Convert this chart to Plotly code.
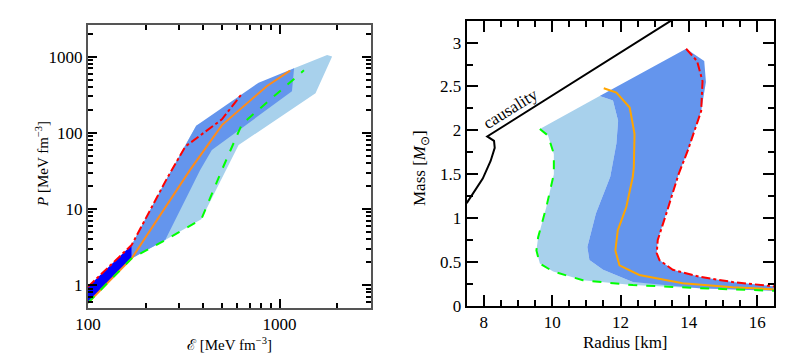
import plotly.graph_objects as go

# ---- left panel: P(e) bands ----
e_dark = [100, 169, 169, 100]
p_dark = [0.585, 2.24, 3.36, 0.95]

e_med = [169, 169, 258, 333, 367, 777, 1190, 1160, 443, 385, 253]
p_med = [2.24, 3.36, 25, 80, 124, 455, 704, 350, 59.5, 32.5, 3.9]

e_light = [169, 253, 390, 611, 1540, 1880, 1770, 1190, 367, 258, 169]
p_light = [2.24, 3.9, 7.3, 69, 330, 1000, 1050, 704, 124, 25, 3.36]

e_red = [100, 169, 258, 322, 500, 630]
p_red = [0.95, 3.36, 25, 66, 150, 316]

e_orange = [100, 169, 341, 500, 860, 1135]
p_orange = [0.585, 2.24, 32.5, 126, 412, 655]

e_green = [100, 169, 253, 390, 500, 636, 1340]
p_green = [0.585, 2.24, 3.9, 7.3, 32.6, 130, 660]

# ---- right panel: M(R) ----
r_green = [9.64, 9.88, 10.05, 10.05, 9.83, 9.59, 9.54, 9.64, 10.03, 10.9, 12.36, 14.31, 16.5]
m_green = [2.015, 1.94, 1.73, 1.5, 1.125, 0.78, 0.63, 0.48, 0.39, 0.29, 0.235, 0.20, 0.17]

r_split = [11.39, 11.78, 11.93, 11.88, 11.7, 11.28, 11.03, 11.09, 11.49, 12.36]
m_split = [2.39, 2.34, 2.11, 1.85, 1.47, 1.05, 0.67, 0.52, 0.41, 0.27]

r_red = [13.92, 14.24, 14.4, 14.36, 13.97, 13.7, 13.34, 13.09, 13.06, 13.14, 13.53, 14.31, 15.28, 16.5]
m_red = [2.93, 2.79, 2.56, 2.22, 1.77, 1.5, 1.05, 0.75, 0.6, 0.52, 0.41, 0.33, 0.27, 0.22]

r_orange = [11.51, 11.88, 12.27, 12.41, 12.39, 12.36, 12.17, 11.92, 11.85, 11.97, 12.55, 13.82, 15.28, 16.5]
m_orange = [2.48, 2.43, 2.26, 1.96, 1.58, 1.47, 1.125, 0.86, 0.63, 0.46, 0.35, 0.255, 0.21, 0.186]

r_caus = [7.5, 7.75, 7.97, 8.2, 8.32, 8.3, 8.1, 13.68]
m_caus = [1.17, 1.32, 1.45, 1.65, 1.8, 1.88, 1.93, 3.3]

LIGHT = '#a8d1ec'
MED = '#6495ed'
FONT = 'Liberation Serif'
W, H = 797, 360
OFF = 8  # page body margin

fig = go.Figure()

def band(x, y, color, xa, ya):
    fig.add_trace(go.Scatter(x=x, y=y, fill='toself', fillcolor=color, mode='lines',
                             line=dict(width=0, color=color), xaxis=xa, yaxis=ya,
                             hoverinfo='skip', showlegend=False))

def curve(x, y, color, dash, xa, ya, w=2):
    fig.add_trace(go.Scatter(x=x, y=y, mode='lines', line=dict(color=color, dash=dash, width=w),
                             xaxis=xa, yaxis=ya, showlegend=False))

# left
band(e_light, p_light, LIGHT, 'x', 'y')
band(e_med, p_med, MED, 'x', 'y')
band(e_dark, p_dark, '#0000ff', 'x', 'y')
curve(e_orange, p_orange, '#ff8c1a', 'solid', 'x', 'y')
curve(e_red, p_red, '#ff0000', 'dashdot', 'x', 'y')
curve(e_green, p_green, '#00ff00', 'dash', 'x', 'y')

# right
light_r = r_green + [16.5, 16.5] + r_split[::-1]
light_m = m_green + [0.17, 0.22] + m_split[::-1]
band(light_r, light_m, LIGHT, 'x2', 'y2')
med_r = r_split + [14.31, 16.5, 16.5] + r_red[::-1][:-3] + [14.5, 14.45, 13.92]
med_m = m_split + [0.20, 0.17, 0.22] + m_red[::-1][:-3] + [2.55, 2.79, 2.93]
band(med_r, med_m, MED, 'x2', 'y2')
curve(r_orange, m_orange, '#ffa500', 'solid', 'x2', 'y2')
curve(r_red, m_red, '#ff0000', 'dashdot', 'x2', 'y2')
curve(r_green, m_green, '#00ff00', 'dash', 'x2', 'y2')
curve(r_caus, m_caus, 'black', 'solid', 'x2', 'y2')

fig.add_annotation(x=8.79, y=2.25, xref='x2', yref='y2', text='causality', showarrow=False,
                   textangle=-32, font=dict(size=17, family=FONT, color='black'))

# axis titles as paper annotations (positions in screen px)
def label(px, py, text, size, angle=0):
    fig.add_annotation(x=(px - OFF) / W, y=1 - (py - OFF) / H, xref='paper', yref='paper',
                       text=text, showarrow=False, textangle=angle,
                       xanchor='center', yanchor='middle',
                       font=dict(size=size, family=FONT, color='black'))

label(229, 344, 'ℰ [MeV fm<sup>−3</sup>]', 15)
label(42, 164, '<i>P</i> [MeV fm<sup>−3</sup>]', 15, -90)
label(625, 342, 'Radius [km]', 17)
label(421, 168, 'Mass [<i>M</i><sub>⊙</sub>]', 17, -90)

def xdom(a, b):
    return [(a - OFF) / W, (b - OFF) / W]

def ydom(top, bottom):
    return [1 - (bottom - OFF) / H, 1 - (top - OFF) / H]

ax_common = dict(showline=True, mirror='allticks', ticks='inside', tickcolor='black',
                 tickfont=dict(size=17, family=FONT, color='black'),
                 showgrid=False, zeroline=False, automargin=False)

minor_x = [200, 300, 400, 500, 600, 700, 800, 900, 2000, 3000]
minor_y = [m * 10 ** d for d in range(-1, 4) for m in range(2, 10)]

fig.update_layout(
    width=W, height=H, margin=dict(l=0, r=0, t=0, b=0),
    paper_bgcolor='white', plot_bgcolor='white',
    font=dict(family=FONT, color='black'),
    xaxis=dict(ax_common, type='log', domain=xdom(88, 371), anchor='y',
               range=[2, 3.477], tickvals=[100, 1000], ticklen=9, tickwidth=1.5,
               linecolor='#555', linewidth=2,
               minor=dict(tickvals=minor_x, ticks='inside', ticklen=5, tickcolor='black')),
    yaxis=dict(ax_common, type='log', domain=ydom(25, 308), anchor='x',
               range=[-0.301, 3.415], tickvals=[1, 10, 100, 1000], ticklen=9, tickwidth=1.5,
               linecolor='#555', linewidth=2,
               minor=dict(tickvals=minor_y, ticks='inside', ticklen=5, tickcolor='black')),
    xaxis2=dict(ax_common, domain=xdom(466.7, 774.3), anchor='y2',
                range=[7.5, 16.5], tickvals=[8, 10, 12, 14, 16], ticklen=11, tickwidth=1.5,
                linecolor='black', linewidth=2,
                minor=dict(dtick=0.5, ticks='inside', ticklen=6, tickcolor='black')),
    yaxis2=dict(ax_common, domain=ydom(20.7, 305.7), anchor='x2',
                range=[0, 3.25], dtick=0.5, ticklen=11, tickwidth=1.5,
                linecolor='black', linewidth=2,
                minor=dict(dtick=0.25, ticks='inside', ticklen=6, tickcolor='black')),
)

fig.write_html("out.html")
